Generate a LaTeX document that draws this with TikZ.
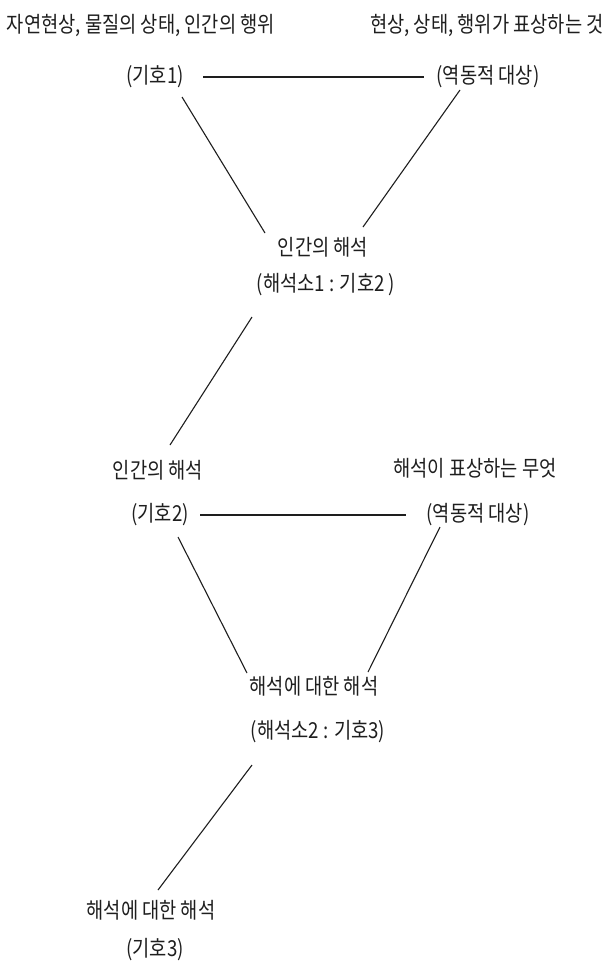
\documentclass[tikz,border=0pt]{standalone}
\usepackage{fontspec}
\usepackage{tikz}
\newfontfamily\kofont[FakeStretch=0.85]{Noto Sans CJK KR}
\definecolor{inkgray}{RGB}{30,30,30}

\begin{document}
\begin{tikzpicture}[x=1pt, y=-1pt,
  txt/.style={font=\kofont\fontsize{22}{26}\selectfont, text=inkgray, inner sep=0pt},
  link/.style={draw=inkgray, line width=1.1pt}]
  \useasboundingbox[fill=white] (0,0) rectangle (605,972);
  % first triad
  \node[txt] (t1) at (141,25) {자연현상, 물질의 상태, 인간의 행위};
  \node[txt] (t2) at (487,25) {현상, 상태, 행위가 표상하는 것};
  \node[txt] (k1) at (155,77) {(기호1)};
  \node[txt] (o1) at (488,77) {(역동적 대상)};
  \node[txt] (h1) at (323,247) {인간의 해석};
  \node[txt] (s1) at (326,285) {(해석소1 : 기호2 )};
  % second triad
  \node[txt] (i2) at (158,470) {인간의 해석};
  \node[txt] (r2) at (475,468) {해석이 표상하는 무엇};
  \node[txt] (k2) at (160,515) {(기호2)};
  \node[txt] (o2) at (478,515) {(역동적 대상)};
  \node[txt] (i3) at (314,686) {해석에 대한 해석};
  \node[txt] (s2) at (318,732) {(해석소2 : 기호3)};
  % third sign
  \node[txt] (i4) at (151,910) {해석에 대한 해석};
  \node[txt] (k3) at (155,950) {(기호3)};
  % connectors
  \draw[link] ([shift={(48,0)}]k1.center) -- ([shift={(-64,0)}]o1.center);
  \draw[link] ([shift={(27,20)}]k1.center) -- ([shift={(-58,-14)}]h1.center);
  \draw[link] ([shift={(-28,13)}]o1.center) -- ([shift={(40,-20)}]h1.center);
  \draw[link] ([shift={(-74,32)}]s1.center) -- ([shift={(12,-25)}]i2.center);
  \draw[link] ([shift={(40,0)}]k2.center) -- ([shift={(-72,0)}]o2.center);
  \draw[link] ([shift={(18,22)}]k2.center) -- ([shift={(-67,-13)}]i3.center);
  \draw[link] ([shift={(-38,12)}]o2.center) -- ([shift={(54,-14)}]i3.center);
  \draw[link] ([shift={(-66,33)}]s2.center) -- ([shift={(7,-20)}]i4.center);
\end{tikzpicture}
\end{document}
